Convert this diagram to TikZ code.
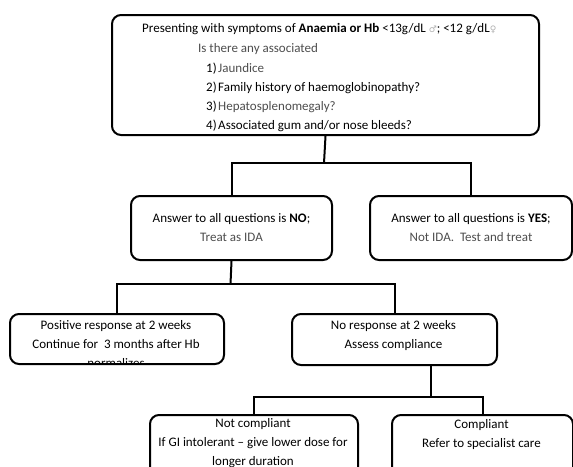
\documentclass[tikz,border=0pt]{standalone}
\usepackage{fontspec}
\setmainfont{Carlito}
\newfontfamily\symfont{DejaVu Sans}
\definecolor{txtgray}{HTML}{4D4D4D}
\definecolor{symgray}{HTML}{B0B0B0}
\newcommand{\symm}[1]{{\symfont\fontsize{9}{9}\selectfont\color{symgray}#1}}
\begin{document}
\begin{tikzpicture}[x=1pt,y=-1pt,
  box/.style={draw, line width=2pt, rounded corners=9pt, inner sep=0pt},
  conn/.style={line width=2pt},
  txt/.style={font=\fontsize{13}{19}\selectfont, inner sep=0pt, align=center},
  ltxt/.style={font=\fontsize{13}{19}\selectfont, inner sep=0pt, anchor=base west}]
\useasboundingbox (0,0) rectangle (573,466);

% boxes
\node[box, anchor=north west, minimum width=427pt, minimum height=120pt] (top) at (111,14) {};
\node[box, anchor=north west, minimum width=201pt, minimum height=64pt] (no) at (130,195) {};
\node[box, anchor=north west, minimum width=202pt, minimum height=64pt] (yes) at (369,195) {};
\node[box, anchor=north west, minimum width=214pt, minimum height=50pt] (pos) at (9,313) {};
\node[box, anchor=north west, minimum width=205pt, minimum height=51pt] (nr) at (291,313) {};
\node[box, anchor=north west, minimum width=208pt, minimum height=62pt] (nc) at (149,414) {};
\node[box, anchor=north west, minimum width=181pt, minimum height=62pt] (co) at (391,414) {};

% top box text
\node[ltxt] (t1) at (142,32) {Presenting with symptoms of \textbf{Anaemia or Hb} <13g/dL \symm{♂}; <12 g/dL\symm{♀}};
\node[ltxt, text=txtgray] (t2) at (198,52) {Is there any associated};
\node[ltxt] (t3) at (206,72) {1)\hspace{1.5pt}\textcolor{txtgray}{Jaundice}};
\node[ltxt] (t4) at (206,91) {2)\hspace{1.5pt}Family history of haemoglobinopathy?};
\node[ltxt] (t5) at (206,110) {3)\hspace{1.5pt}\textcolor{txtgray}{Hepatosplenomegaly?}};
\node[ltxt] (t6) at (206,129) {4)\hspace{1.5pt}Associated gum and/or nose bleeds?};

% second row text
\node[txt] (notxt) at (no.center) {Answer to all questions is \textbf{NO};\\\textcolor{txtgray}{Treat as IDA}};
\node[txt] (yestxt) at (yes.center) {Answer to all questions is \textbf{YES};\\\textcolor{txtgray}{Not IDA.\ \ Test and treat}};

% third row text
\begin{scope}
  \clip (9,313) rectangle (223,363);
  \node[txt] (postxt) at (116,344) {Positive response at 2 weeks\\Continue for\ \ 3 months after Hb\\normalizes};
\end{scope}
\node[txt] (nrtxt) at (393.5,336) {No response at 2 weeks\\Assess compliance};

% bottom row text
\node[txt] (nctxt) at (253,443) {Not compliant\\If GI intolerant -- give lower dose for\\longer duration};
\node[txt] (cotxt) at (481.5,434.5) {Compliant\\Refer to specialist care};

% connector coordinates
\coordinate (h1) at (324,163);
\coordinate (h2) at (230.5,284);
\coordinate (x431) at (431,0);
\coordinate (h3) at (431,397);

% connectors
\draw[conn] (top.south) -- (h1);
\draw[conn] (no.north) |- (h1) -| (yes.north);
\draw[conn] (no.south) -- (h2);
\draw[conn] (pos.north) |- (h2) -| (nr.north);
\draw[conn] (x431 |- nr.south) -- (h3);
\draw[conn] (nc.north) |- (h3) -| (co.north);
\end{tikzpicture}
\end{document}
